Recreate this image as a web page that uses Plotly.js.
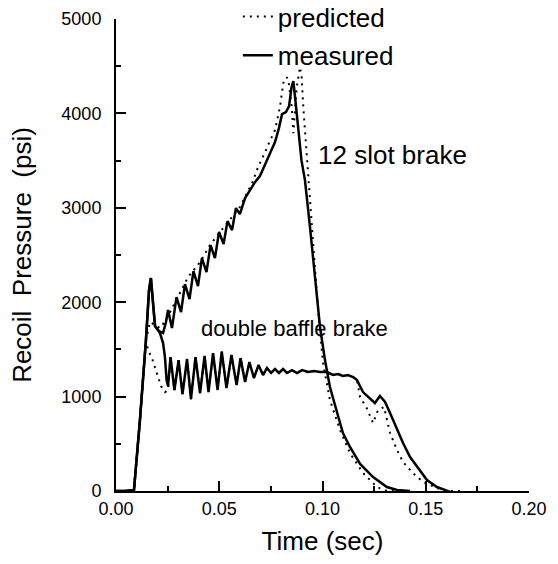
<!DOCTYPE html>
<html>
<head>
<meta charset="utf-8">
<script src="https://cdn.plot.ly/plotly-3.0.1.min.js"></script>
<style>html,body{margin:0;padding:0;background:#fff;}#chart{width:558px;height:564px;}</style>
</head>
<body>
<div id="chart"></div>
<script>
// 12 slot brake, measured
const slotMeasT = [0,0.0044,0.0087,0.0116,0.0145,0.0160,0.0169,0.0177,0.0189,0.0208,0.0228,0.0242,0.0252,0.0271,0.0293,0.0315,0.0334,0.0356,0.0375,0.0397,0.0416,0.0438,0.0458,0.0479,0.0499,0.0521,0.0540,0.0562,0.0581,0.0600,0.0625,0.0649,0.0673,0.0697,0.0722,0.0746,0.0770,0.0789,0.0804,0.0823,0.0838,0.0850,0.0859,0.0867,0.0881,0.0898,0.0915,0.0939,0.0964,0.0988,0.1012,0.1036,0.1070,0.1099,0.1133,0.1182,0.1245,0.1312,0.1361,0.1424];
const slotMeasP = [0,0,10,752,1599,2129,2256,2023,1747,1694,1673,1790,1917,1726,2054,1896,2192,2033,2330,2171,2467,2319,2605,2467,2743,2616,2859,2764,2997,2933,3103,3188,3272,3336,3452,3579,3696,3844,3992,4014,4077,4278,4342,4194,3876,3505,3293,2806,2266,1737,1387,1101,837,614,466,286,148,42,11,0];
// 12 slot brake, predicted
const slotPredT = [0,0.0044,0.0087,0.0116,0.0145,0.0165,0.0189,0.0213,0.0242,0.0295,0.0349,0.0407,0.0455,0.0504,0.0552,0.0600,0.0659,0.0688,0.0722,0.0736,0.0770,0.0794,0.0810,0.0827,0.0835,0.0851,0.0859,0.0875,0.0891,0.0899,0.0907,0.0923,0.0931,0.0949,0.0964,0.0983,0.1002,0.1036,0.1085,0.1133,0.1196,0.1264,0.1312,0.1375];
const slotPredP = [0,0,10,752,1599,1790,1758,1726,1811,2044,2266,2425,2605,2743,2870,3008,3262,3431,3590,3664,3823,4067,4321,4384,4352,4067,3791,4278,4490,4384,4067,3579,3262,2796,2340,1811,1366,964,646,402,191,42,0,0];
// double baffle brake, measured
const baffMeasT = [0,0.0044,0.0087,0.0116,0.0145,0.0160,0.0169,0.0177,0.0189,0.0213,0.0228,0.0237,0.0245,0.0252,0.0264,0.0283,0.0303,0.0322,0.0344,0.0363,0.0385,0.0407,0.0429,0.0448,0.0470,0.0492,0.0512,0.0535,0.0559,0.0584,0.0603,0.0625,0.0646,0.0668,0.0690,0.0712,0.0731,0.0751,0.0770,0.0789,0.0809,0.0828,0.0852,0.0877,0.0901,0.0930,0.0959,0.0988,0.1021,0.1051,0.1075,0.1099,0.1123,0.1148,0.1167,0.1196,0.1230,0.1254,0.1278,0.1303,0.1327,0.1361,0.1390,0.1424,0.1458,0.1506,0.1554,0.1603,0.1646,0.1680];
const baffMeasP = [0,0,10,752,1599,2129,2256,2023,1747,1673,1567,1419,1175,1112,1419,1070,1387,1027,1398,974,1419,1038,1430,1048,1461,1070,1477,1091,1440,1123,1408,1154,1366,1197,1334,1228,1303,1250,1292,1250,1292,1250,1281,1250,1281,1260,1271,1260,1260,1229,1239,1218,1229,1207,1175,1048,985,932,1006,943,826,646,508,360,254,116,42,0,-32,-53];
// double baffle brake, predicted
const baffPredT = [0,0.0044,0.0087,0.0116,0.0145,0.0155,0.0174,0.0189,0.0203,0.0218,0.0237,0.0252,0.0264,0.0283,0.0303,0.0322,0.0344,0.0363,0.0385,0.0407,0.0429,0.0448,0.0470,0.0492,0.0512,0.0535,0.0559,0.0584,0.0603,0.0625,0.0646,0.0668,0.0690,0.0712,0.0731,0.0751,0.0770,0.0789,0.0809,0.0828,0.0852,0.0877,0.0901,0.0930,0.0959,0.0988,0.1021,0.1051,0.1075,0.1099,0.1123,0.1148,0.1167,0.1182,0.1214,0.1245,0.1254,0.1269,0.1298,0.1327,0.1361,0.1390,0.1438,0.1487,0.1554,0.1603,0.1666];
const baffPredP = [0,0,10,752,1599,1493,1408,1303,1197,1112,1048,1070,1419,1070,1387,1027,1398,974,1419,1038,1430,1048,1461,1070,1477,1091,1440,1123,1408,1154,1366,1197,1334,1228,1303,1250,1292,1250,1292,1250,1281,1250,1281,1260,1271,1260,1260,1229,1239,1218,1229,1207,1175,995,879,720,773,858,890,614,434,307,191,95,32,0,0];

const seriesNames = ['predicted','measured'];
const labels = ['12 slot brake','double baffle brake'];
const labelT = [0.0970, 0.0402];
const labelP = [3560, 1720];
const labelSize = [26, 22];
const xTitle = 'Time (sec)';
const yTitle = 'Recoil  Pressure  (psi)';

const FONT = 'Liberation Sans, Arial, Helvetica, sans-serif';
const dotted = {color:'#000', width:2, dash:'2px,5px'};
const solid = {color:'#000', width:2.5};

const traces = [
  {x:slotPredT, y:slotPredP, mode:'lines', line:dotted, name:seriesNames[0], legendgroup:'a', showlegend:true},
  {x:baffPredT, y:baffPredP, mode:'lines', line:dotted, name:seriesNames[0], legendgroup:'a', showlegend:false},
  {x:slotMeasT, y:slotMeasP, mode:'lines', line:solid, name:seriesNames[1], legendgroup:'b', showlegend:true},
  {x:baffMeasT, y:baffMeasP, mode:'lines', line:solid, name:seriesNames[1], legendgroup:'b', showlegend:false}
];

const layout = {
  width:558, height:564,
  margin:{l:116, r:29, t:19, b:73, autoexpand:false},
  paper_bgcolor:'#fff', plot_bgcolor:'#fff',
  font:{family:FONT, color:'#000', size:18},
  showlegend:true,
  legend:{x:0.295, xanchor:'left', y:1.055, yanchor:'top',
          bgcolor:'rgba(0,0,0,0)', font:{size:26, family:FONT}, traceorder:'grouped', tracegroupgap:2},
  xaxis:{range:[0,0.2], tickvals:[0,0.05,0.1,0.15,0.2], tickformat:'.2f',
         showline:true, linewidth:2, linecolor:'#000', showgrid:false, zeroline:false,
         ticks:'inside', ticklen:10, tickwidth:2, tickcolor:'#000',
         minor:{dtick:0.025, ticks:'inside', ticklen:5, tickwidth:2, tickcolor:'#000', showgrid:false},
         tickfont:{size:18}, ticklabelstandoff:0,
         title:{text:xTitle, font:{size:26}, standoff:14}},
  yaxis:{range:[0,5000], dtick:1000, showline:true, linewidth:2, linecolor:'#000',
         showgrid:false, zeroline:false,
         ticks:'inside', ticklen:10, tickwidth:2, tickcolor:'#000',
         minor:{dtick:500, ticks:'inside', ticklen:5, tickwidth:2, tickcolor:'#000', showgrid:false},
         tickfont:{size:18}, ticklabelstandoff:9,
         title:{text:yTitle, font:{size:26}, standoff:22}},
  annotations: labels.map((s,i)=>({x:labelT[i], y:labelP[i], xref:'x', yref:'y', text:s,
     showarrow:false, xanchor:'left', yanchor:'middle', font:{size:labelSize[i], family:FONT, color:'#000'}}))
};

Plotly.newPlot('chart', traces, layout, {displayModeBar:false, staticPlot:true});
</script>
</body>
</html>
